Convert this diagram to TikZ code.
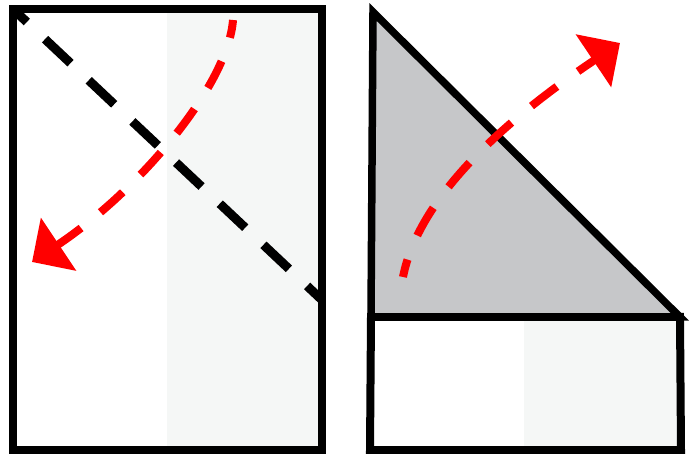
\documentclass[tikz,border=0pt]{standalone}
\usetikzlibrary{arrows.meta}
\definecolor{panelgrey}{HTML}{F5F7F6}
\definecolor{trigrey}{HTML}{C6C7C9}
\definecolor{arrowred}{HTML}{FF0000}
\tikzset{
  border/.style={line width=8pt, line join=miter},
  fold/.style={line width=9pt, dash pattern=on 35pt off 25pt, dash phase=16pt},
  redarrow/.style={line width=8pt, color=arrowred, dash pattern=on 30pt off 25pt, dash phase=12pt,
    -{Triangle[length=32pt,width=62pt]}},
}
\begin{document}
\begin{tikzpicture}[x=1pt,y=-1pt]
\useasboundingbox (0,0) rectangle (691,454);
% left sheet
\coordinate (LTL) at (13,9);
\coordinate (LBR) at (322,450);
\fill[panelgrey] (167,9) rectangle (322,450);
\draw[fold] (LTL) -- (322,300);
\draw[redarrow] (233,20) .. controls (228,85) and (140,190) .. (32,262);
\draw[border] (LTL) rectangle (LBR);
% right sheet
\coordinate (A) at (373,12);
\coordinate (B) at (680,317);
\coordinate (C) at (371,317);
\coordinate (D) at (681,450);
\coordinate (E) at (370,450);
\fill[panelgrey] (524,317) rectangle (D);
\draw[border, line width=8pt] (C) -- (B) -- (D) -- (E) -- cycle;
\draw[border, line width=7.5pt, fill=trigrey] (A) -- (B) -- (C) -- cycle;
\draw[redarrow, dash pattern=on 32pt off 26pt, dash phase=14pt] (403,277) .. controls (420,190) and (520,110) .. (620,43);
\end{tikzpicture}
\end{document}
